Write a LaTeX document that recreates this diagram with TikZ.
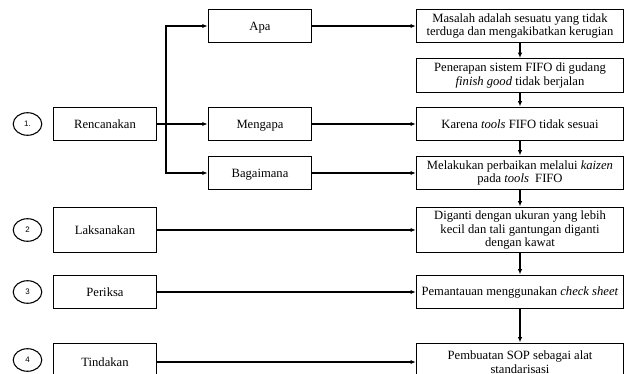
\documentclass[tikz,border=0pt]{standalone}
\usepackage{fontspec}
\setmainfont{Liberation Serif}
\setsansfont{Liberation Sans}
\usepackage{tikz}
\usetikzlibrary{shapes.geometric, arrows.meta, positioning}

\begin{document}
\begin{tikzpicture}[x=0.02646cm, y=-0.02646cm,
    numcircle/.style={ellipse, draw, thick, minimum width=21.5pt, minimum height=17pt, inner sep=0pt, font=\sffamily\fontsize{6}{7}\selectfont},
    stepbox/.style={draw, thick, minimum width=78pt, minimum height=25.5pt, inner sep=1pt, text height=1.6ex, text depth=0.1ex, font=\fontsize{9.5}{10.2}\selectfont},
    descbox/.style={draw, thick, minimum width=156pt, minimum height=25.5pt, inner sep=1pt, align=center, font=\fontsize{9.5}{10.2}\selectfont},
    conn/.style={thick, -{Latex[length=4pt, width=3.2pt]}}]
    \clip (0,0) rectangle (626,374);

    % Numbers
    \node[numcircle] (n1) at (27.5,124) {1.};
    \node[numcircle] (n2) at (27.5,230) {2};
    \node[numcircle] (n3) at (27.5,292) {3};
    \node[numcircle] (n4) at (27.5,360) {4};

    % PDCA steps
    \node[stepbox] (renc) at (105,124) {Rencanakan};
    \node[stepbox, minimum height=34.5pt] (laks) at (105,230) {Laksanakan};
    \node[stepbox] (periksa) at (105,292) {Periksa};
    \node[stepbox, minimum height=28.5pt] (tindakan) at (105,362) {Tindakan};

    % Questions
    \node[stepbox] (apa) at (260,26) {Apa};
    \node[stepbox] (mengapa) at (260,124) {Mengapa};
    \node[stepbox] (bagai) at (260,173) {Bagaimana};

    % Descriptions
    \node[descbox] (d1) at (520,26) {Masalah adalah sesuatu yang tidak\\terduga dan mengakibatkan kerugian};
    \node[descbox] (d2) at (520,75.5) {Penerapan sistem FIFO di gudang\\\textit{finish good} tidak berjalan};
    \node[descbox] (d3) at (520,124) {Karena \textit{tools} FIFO tidak sesuai};
    \node[descbox] (d4) at (520,173) {Melakukan perbaikan melalui \textit{kaizen}\\pada \textit{tools}\ \ FIFO};
    \node[descbox, minimum height=34.5pt] (d5) at (520,230) {Diganti dengan ukuran yang lebih\\kecil dan tali gantungan diganti\\dengan kawat};
    \node[descbox] (d6) at (520,292) {Pemantauan menggunakan \textit{check sheet}};
    \node[descbox, minimum height=28.5pt] (d7) at (520,362) {Pembuatan SOP sebagai alat\\standarisasi};

    % Branch from Rencanakan
    \coordinate (branch) at (166,124);
    \draw[thick] (renc.east) -- (branch);
    \draw[conn] (branch) |- (apa.west);
    \draw[conn] (branch) -- (mengapa.west);
    \draw[conn] (branch) |- (bagai.west);

    % Horizontal links
    \draw[conn] (apa) -- (d1);
    \draw[conn] (mengapa) -- (d3);
    \draw[conn] (bagai) -- (d4);
    \draw[conn] (laks) -- (d5);
    \draw[conn] (periksa) -- (d6);
    \draw[conn] (tindakan) -- (d7);

    % Vertical chain
    \draw[conn] (d1) -- (d2);
    \draw[conn] (d2) -- (d3);
    \draw[conn] (d3) -- (d4);
    \draw[conn] (d4) -- (d5);
    \draw[conn] (d5) -- (d6);
    \draw[conn] (d6) -- (d7);
\end{tikzpicture}
\end{document}
